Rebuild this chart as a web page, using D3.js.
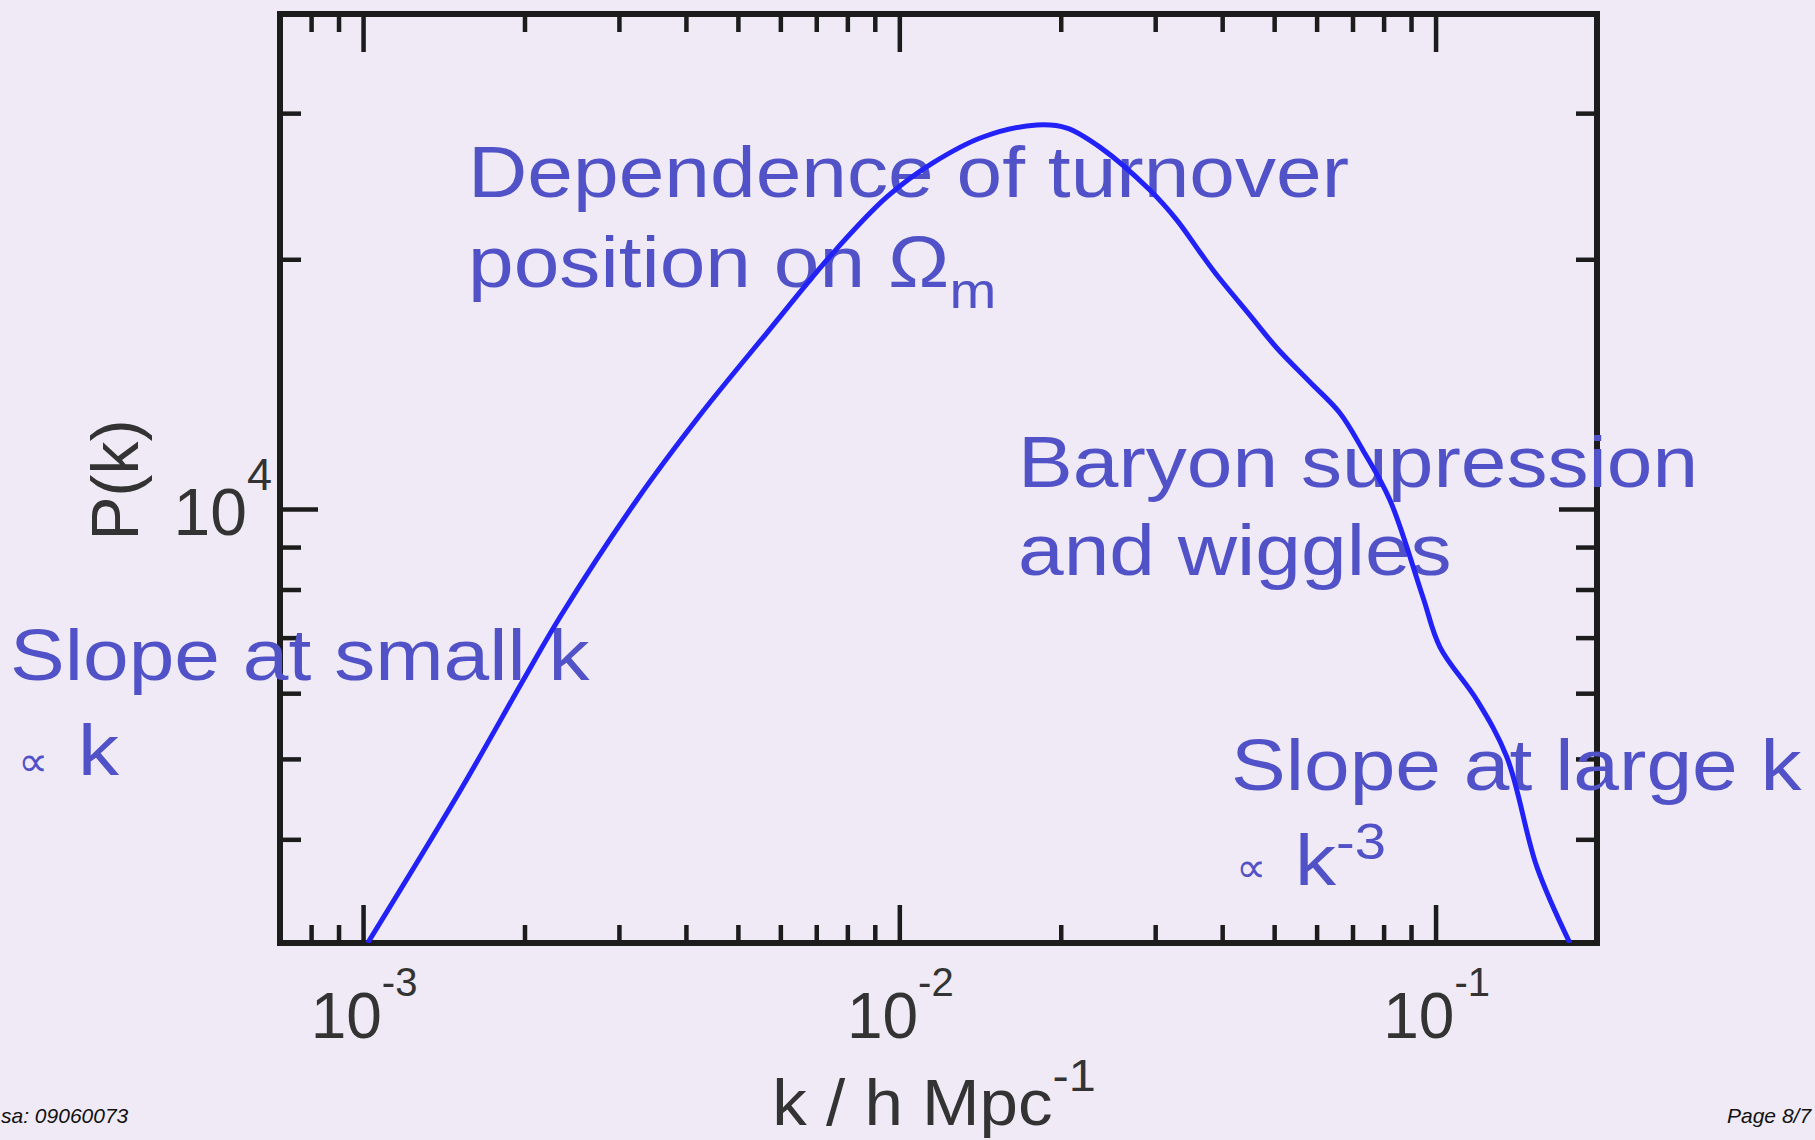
<!DOCTYPE html>
<html>
<head>
<meta charset="utf-8">
<script src="https://cdn.jsdelivr.net/npm/d3@7"></script>
<style>
  html, body { margin: 0; padding: 0; background: #efeaf5; overflow: hidden; }
  svg { display: block; }
  text { font-family: "Liberation Sans", Arial, Helvetica, sans-serif; }
</style>
</head>
<body>
<svg id="chart" width="1815" height="1140"></svg>
<script>
// Matter power spectrum P(k) against wavenumber k (h/Mpc)
const kValues = [0.00102, 0.00152, 0.00199, 0.00233, 0.00324, 0.00425, 0.00566, 0.00752,
                 0.00948, 0.01155, 0.01432, 0.01805, 0.02054, 0.02366, 0.02932, 0.03293,
                 0.03634, 0.03909, 0.04504, 0.05058, 0.0583, 0.0663, 0.07316, 0.08219,
                 0.0947, 0.1019, 0.1194, 0.1358, 0.1545, 0.178];
const pValues = [3000, 4587, 6223, 7413, 10256, 12982, 16298, 20348,
                 23775, 26129, 28077, 29028, 28782, 27300, 24239, 22297,
                 20407, 19144, 17129, 15636, 14227, 13054, 11783, 10256,
                 7836, 6820, 5887, 5026, 3705, 3000];

// axis extents and labelled decades
const kDomain = [0.0007, 0.2];
const pDomain = [3000, 39500];
const xMajorExponents = [-3, -2, -1];
const yMajorExponents = [4];

const xTitle = "k / h Mpc";
const xTitleSup = "-1";
const yTitle = "P(k)";
const footerLeft = "sa: 09060073";
const footerRight = "Page 8/7";

const svg = d3.select("#chart");
const W = 1815, H = 1140;
const plot = { left: 280, top: 14, right: 1597, bottom: 943 };

svg.append("rect").attr("width", W).attr("height", H).attr("fill", "#efeaf5");

const x = d3.scaleLog().domain(kDomain).range([plot.left, plot.right]);
const y = d3.scaleLog().domain(pDomain).range([plot.bottom, plot.top]);

const axisColor = "#1c1c1c";
const labelColor = "#333333";
const noteColor = "#5252c8";
const curveColor = "#2222f8";

const isMajor = v => Math.abs(Math.log10(v) - Math.round(Math.log10(v))) < 1e-6;
const xTicks = x.ticks().filter(v => v > kDomain[0] * 1.001 && v < kDomain[1] * 0.999);
const yTicks = y.ticks().filter(v => v > pDomain[0] * 1.001 && v < pDomain[1] * 0.999);
const xMaj = xTicks.filter(isMajor), xMin = xTicks.filter(v => !isMajor(v));
const yMaj = yTicks.filter(isMajor), yMin = yTicks.filter(v => !isMajor(v));

const majLen = 38, minLenX = 18, minLenY = 21;

function drawAxis(gen, values, len, transform) {
  const g = svg.append("g").attr("transform", transform)
    .call(gen.tickValues(values).tickSize(-len).tickFormat(""));
  g.select(".domain").remove();
  g.selectAll(".tick line").attr("stroke", axisColor).attr("stroke-width", 4.5);
  return g;
}

// inward ticks on all four sides
drawAxis(d3.axisBottom(x), xMaj, majLen, `translate(0,${plot.bottom})`);
drawAxis(d3.axisBottom(x), xMin, minLenX, `translate(0,${plot.bottom})`);
drawAxis(d3.axisTop(x), xMaj, majLen, `translate(0,${plot.top})`);
drawAxis(d3.axisTop(x), xMin, minLenX, `translate(0,${plot.top})`);
drawAxis(d3.axisLeft(y), yMaj, majLen, `translate(${plot.left},0)`);
drawAxis(d3.axisLeft(y), yMin, minLenY, `translate(${plot.left},0)`);
drawAxis(d3.axisRight(y), yMaj, majLen, `translate(${plot.right},0)`);
drawAxis(d3.axisRight(y), yMin, minLenY, `translate(${plot.right},0)`);

// frame
svg.append("rect")
  .attr("x", plot.left).attr("y", plot.top)
  .attr("width", plot.right - plot.left).attr("height", plot.bottom - plot.top)
  .attr("fill", "none").attr("stroke", axisColor).attr("stroke-width", 6);

// x tick labels: 10^n
xMajorExponents.forEach(e => {
  const t = svg.append("text")
    .attr("x", x(Math.pow(10, e)) + 1).attr("y", 1038)
    .attr("text-anchor", "middle").attr("fill", labelColor)
    .attr("font-size", 64);
  t.append("tspan").text("10");
  t.append("tspan").attr("font-size", 40).attr("dy", -42).text("-" + Math.abs(e));
});

// y tick labels
yMajorExponents.forEach(e => {
  const t = svg.append("text")
    .attr("x", 272).attr("y", y(Math.pow(10, e)) + 26)
    .attr("text-anchor", "end").attr("fill", labelColor)
    .attr("font-size", 66);
  t.append("tspan").text("10");
  t.append("tspan").attr("font-size", 45).attr("dy", -45).text(String(e));
});

// axis titles
const xt = svg.append("text")
  .attr("transform", "translate(934,1125) scale(1.08,1)")
  .attr("text-anchor", "middle").attr("fill", labelColor).attr("font-size", 64);
xt.append("tspan").text(xTitle);
xt.append("tspan").attr("font-size", 45).attr("dy", -34).text(xTitleSup);

svg.append("text")
  .attr("transform", "translate(138,480) rotate(-90)")
  .attr("text-anchor", "middle").attr("fill", labelColor).attr("font-size", 66)
  .text(yTitle);

// annotations
const noteSize = 73, stretch = 1.125;
function note(xp, yp, str) {
  return svg.append("text")
    .attr("transform", `translate(${xp},${yp}) scale(${stretch},1)`)
    .attr("fill", noteColor).attr("font-size", noteSize).text(str);
}
note(468, 197, "Dependence of turnover");
const l2 = note(468, 287, "position on Ω");
l2.append("tspan").attr("font-size", 50).attr("dy", 21).text("m");
note(1018, 487, "Baryon supression");
note(1018, 575, "and wiggles");
note(10, 680, "Slope at small k");
note(1231, 790, "Slope at large k");

function propTo(xp, yp) {
  svg.append("text").attr("x", xp).attr("y", yp)
    .attr("fill", noteColor).attr("font-size", 42)
    .style("font-family", "'DejaVu Sans', sans-serif").text("∝");
}
propTo(18, 776);
note(78, 775, "k");
propTo(1236, 882);
const k3 = note(1295, 885, "k");
k3.append("tspan").attr("font-size", 50).attr("dy", -26).text("-3");

// power spectrum curve
svg.append("clipPath").attr("id", "plotClip").append("rect")
  .attr("x", plot.left).attr("y", plot.top)
  .attr("width", plot.right - plot.left).attr("height", plot.bottom - plot.top);

const line = d3.line()
  .x((d, i) => x(kValues[i]))
  .y(d => y(d))
  .curve(d3.curveCatmullRom.alpha(0.5));

svg.append("path")
  .datum(pValues)
  .attr("clip-path", "url(#plotClip)")
  .attr("d", line)
  .attr("fill", "none").attr("stroke", curveColor)
  .attr("stroke-width", 5).attr("stroke-linejoin", "round");

// slide footer
svg.append("text").attr("x", 1).attr("y", 1123)
  .attr("font-size", 21).attr("font-style", "italic").attr("fill", "#111")
  .text(footerLeft);
svg.append("text").attr("x", 1727).attr("y", 1123)
  .attr("font-size", 21).attr("font-style", "italic").attr("fill", "#111")
  .text(footerRight);
</script>
</body>
</html>
